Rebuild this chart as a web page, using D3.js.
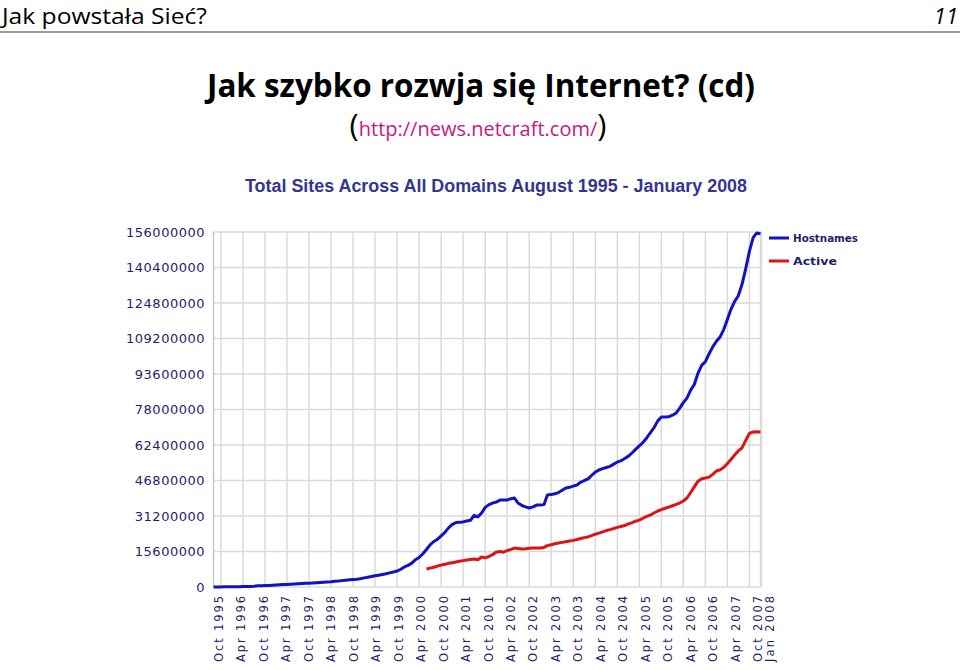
<!DOCTYPE html>
<html><head><meta charset="utf-8">
<script src="https://cdn.jsdelivr.net/npm/d3@7"></script>
<style>body{margin:0;background:#fff}svg{display:block}</style>
</head><body>
<script>
// ---- data (values in millions of sites) ----
const hostStart = "1995-08";
const hostnames = [
  0.02,0.03,0.05,0.07,0.1,0.1,0.14,0.16,0.2,0.23,0.25,0.3,
  0.5,0.6,0.65,0.7,0.8,0.9,1.0,1.05,1.1,1.2,1.3,1.4,
  1.5,1.6,1.7,1.8,1.9,2.0,2.1,2.2,2.3,2.5,2.6,2.8,
  3.0,3.2,3.3,3.4,3.6,4.0,4.3,4.6,4.9,5.2,5.5,5.8,
  6.2,6.6,7.0,7.8,8.8,9.5,10.5,12,13,14.5,16.5,18.5,
  20,21,22.5,24,26,27.5,28.3,28.5,28.6,29,29.3,31.5,
  30.8,32.5,35,36.2,36.9,37.3,38.2,38.2,38.2,38.8,39.1,36.9,
  35.8,35.2,34.7,35.2,36,36,36.2,40.4,40.6,41.0,41.5,42.5,
  43.5,43.8,44.3,44.8,46,46.8,47.5,49,50.5,51.4,52,52.5,
  53,54,54.9,55.5,56.5,57.5,59,60.5,62,63.5,65.5,67.7,
  70,73,74.7,74.7,74.8,75.5,76.5,78.5,81,83,86.5,89,
  94,97.5,99,102.5,105.5,108,110,113,117.5,122,125.5,128,
  133,140,147.5,153.5,155.6,155.2
];
const activeStart = "2000-06";
const active = [
  7.9,8.3,8.7,9.2,9.6,10.0,10.4,10.7,11.0,11.3,11.6,11.9,
  12.1,12.3,12.0,13.2,12.8,13.4,14.2,15.4,15.6,15.3,16.0,16.5,
  17.1,16.9,16.7,16.8,17.0,17.1,17.1,17.1,17.4,18.2,18.6,19.0,
  19.3,19.6,19.9,20.2,20.5,20.9,21.3,21.7,22.0,22.6,23.2,23.7,
  24.2,24.8,25.2,25.7,26.2,26.6,27.0,27.7,28.3,28.9,29.4,30.2,
  31.0,31.6,32.5,33.4,34.0,34.6,35.1,35.7,36.3,36.9,37.8,39.1,
  41.5,44.0,46.5,47.6,47.9,48.3,49.5,51.0,51.5,52.5,54.2,56.0,
  58.0,59.8,61.1,64.5,67.5,68.1,68.2,68.1
];
const yTicks = [0,15.6,31.2,46.8,62.4,78,93.6,109.2,124.8,140.4,156];
const yTickLabels = ["0","15600000","31200000","46800000","62400000","78000000","93600000","109200000","124800000","140400000","156000000"];
const xTickLabels = ["Oct 1995","Apr 1996","Oct 1996","Apr 1997","Oct 1997","Apr 1998","Oct 1998","Apr 1999","Oct 1999","Apr 2000","Oct 2000","Apr 2001","Oct 2001","Apr 2002","Oct 2002","Apr 2003","Oct 2003","Apr 2004","Oct 2004","Apr 2005","Oct 2005","Apr 2006","Oct 2006","Apr 2007","Oct 2007","Jan 2008"];
const seriesNames = ["Hostnames","Active"];
const seriesColors = ["#1212c4","#dc1414"];
const chartTitle = "Total Sites Across All Domains August 1995 - January 2008";

// ---- build ----
const W = 960, H = 670;
const svg = d3.select("body").append("svg").attr("width", W).attr("height", H)
  .style("background", "#fff");

// slide header
svg.append("text").attr("x", 2).attr("y", 24)
  .attr("font-family", "'Open Sans','DejaVu Sans',sans-serif").attr("font-size", 22)
  .attr("textLength", 205).attr("lengthAdjust", "spacingAndGlyphs")
  .attr("fill", "#000").text("Jak powstała Sieć?");
svg.append("text").attr("x", 958).attr("y", 24).attr("text-anchor", "end")
  .attr("font-family", "'Open Sans','DejaVu Sans',sans-serif").attr("font-size", 22)
  .attr("font-style", "italic").attr("fill", "#000").text("11");
svg.append("rect").attr("x", 0).attr("y", 31).attr("width", W).attr("height", 2).attr("fill", "#9a9a9a");

svg.append("text").attr("x", 481).attr("y", 97).attr("text-anchor", "middle")
  .attr("font-family", "'Open Sans','DejaVu Sans',sans-serif").attr("font-size", 32)
  .attr("font-weight", "bold").attr("textLength", 548).attr("lengthAdjust", "spacingAndGlyphs")
  .attr("fill", "#000").text("Jak szybko rozwja się Internet? (cd)");

const sub = svg.append("text").attr("x", 478).attr("y", 136).attr("text-anchor", "middle")
  .attr("font-family", "'Open Sans','DejaVu Sans',sans-serif");
sub.append("tspan").attr("font-size", 31).attr("fill", "#000").text("(");
sub.append("tspan").attr("font-size", 20).attr("fill", "#c8177f").text("http://news.netcraft.com/");
sub.append("tspan").attr("font-size", 31).attr("fill", "#000").text(")");

// chart title
svg.append("text").attr("x", 496).attr("y", 192).attr("text-anchor", "middle")
  .attr("font-family", "'Liberation Sans',Arial,sans-serif").attr("font-size", 17.5)
  .attr("font-weight", "bold").attr("fill", "#35358f")
  .attr("textLength", 502).attr("lengthAdjust", "spacingAndGlyphs")
  .text(chartTitle);

// scales
const parseM = d3.timeParse("%Y-%m");
const parseLab = d3.timeParse("%b %Y");
const t0 = parseM(hostStart);
const tEnd = d3.timeMonth.offset(t0, hostnames.length - 1);
const plotL = 213.5, plotR = 760.5, plotT = 232, plotB = 587;
const x = d3.scaleTime().domain([t0, tEnd]).range([plotL, plotR]);
const xLab = d3.scaleTime().domain([t0, tEnd]).range([210.5, 769]);
const y = d3.scaleLinear().domain([0, 156]).range([plotB, plotT]);

const tickDates = xTickLabels.map(s => parseLab(s));

// gridlines
const grid = svg.append("g").attr("stroke", "#dadada").attr("stroke-width", 1.5);
grid.selectAll("line.h").data(yTicks).join("line").attr("class", "h")
  .attr("x1", plotL).attr("x2", plotR + 1).attr("y1", d => y(d)).attr("y2", d => y(d));
grid.selectAll("line.v").data(tickDates).join("line").attr("class", "v")
  .attr("x1", d => x(d)).attr("x2", d => x(d)).attr("y1", plotT).attr("y2", plotB);
grid.append("line").attr("x1", plotL).attr("x2", plotL).attr("y1", plotT).attr("y2", plotB).attr("stroke", "#c8c8c8");
grid.append("line").attr("x1", plotR + 1).attr("x2", plotR + 1).attr("y1", plotT).attr("y2", plotB);

// y axis labels
const yAxis = svg.append("g").attr("transform", `translate(${plotL},0)`)
  .call(d3.axisLeft(y).tickValues(yTicks).tickSize(0).tickPadding(8.5)
    .tickFormat((d, i) => yTickLabels[i]));
yAxis.select(".domain").remove();
yAxis.selectAll("text").attr("font-family", "'DejaVu Sans',Verdana,sans-serif")
  .attr("font-size", 13).attr("letter-spacing", "0.5px").attr("fill", "#1e1e6e");

// x axis labels
const xAxis = svg.append("g").attr("transform", `translate(0,${plotB})`)
  .call(d3.axisBottom(xLab).tickValues(tickDates).tickSize(0)
    .tickFormat((d, i) => xTickLabels[i]));
xAxis.select(".domain").remove();
xAxis.selectAll("text")
  .attr("transform", "rotate(-90)").attr("text-anchor", "end")
  .attr("x", -9).attr("y", 0).attr("dy", "0.36em")
  .attr("font-family", "'DejaVu Sans',Verdana,sans-serif").attr("font-size", 11.5)
  .attr("textLength", 66).attr("lengthAdjust", "spacing")
  .attr("fill", "#1e1e6e");

// series
const hostData = hostnames.map((v, i) => ({ date: d3.timeMonth.offset(t0, i), value: v }));
const a0 = parseM(activeStart);
const activeData = active.map((v, i) => ({ date: d3.timeMonth.offset(a0, i), value: v }));
const line = d3.line().x(d => x(d.date)).y(d => y(d.value));
[hostData, activeData].forEach((data, k) => {
  svg.append("path").datum(data).attr("d", line)
    .attr("fill", "none").attr("stroke", seriesColors[k]).attr("stroke-width", 3)
    .attr("stroke-linejoin", "round").attr("stroke-linecap", "butt");
});

// legend
const leg = svg.append("g");
seriesNames.forEach((name, k) => {
  const ly = 238 + k * 23;
  leg.append("line").attr("x1", 769).attr("x2", 789).attr("y1", ly).attr("y2", ly)
    .attr("stroke", seriesColors[k]).attr("stroke-width", 3);
  leg.append("text").attr("x", 793).attr("y", ly).attr("dy", "0.36em")
    .attr("font-family", "'DejaVu Sans',Verdana,sans-serif").attr("font-size", 10)
    .attr("font-weight", "bold").attr("fill", "#1e1e6e")
    .attr("textLength", name === "Hostnames" ? 65 : 44).attr("lengthAdjust", "spacingAndGlyphs")
    .text(name);
});
</script>
</body></html>
